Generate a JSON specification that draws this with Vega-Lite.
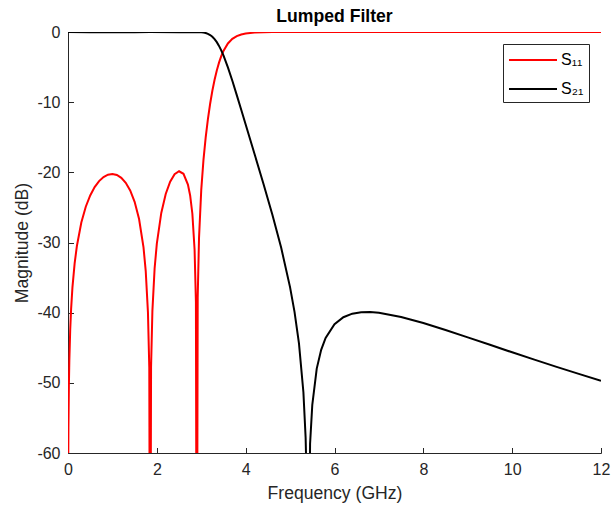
{
  "$schema": "https://vega.github.io/schema/vega-lite/v6.json",
  "width": 533,
  "height": 421,
  "autosize": "none",
  "padding": {"left": 68, "top": 32, "right": 12, "bottom": 57},
  "background": "white",
  "config": {
    "view": {"stroke": null},
    "font": "Liberation Sans",
    "axis": {
      "grid": false,
      "ticks": true,
      "domainColor": "#262626",
      "tickColor": "#262626",
      "labelColor": "#262626",
      "titleColor": "#262626",
      "labelFont": "Liberation Sans",
      "titleFont": "Liberation Sans",
      "labelFontSize": 16,
      "titleFontSize": 17.6,
      "titleFontWeight": "normal",
      "tickSize": -5.5,
      "domainWidth": 1,
      "tickWidth": 1,
      "labelExpr": "replace(datum.label, '−', '-')"
    }
  },
  "title": {
    "text": "Lumped Filter",
    "font": "Liberation Sans",
    "fontSize": 17.6,
    "fontWeight": "bold",
    "color": "#000000",
    "anchor": "middle",
    "offset": -2
  },
  "data": {
    "values": [
      {"f": 0, "v": -100, "s": "S₁₁"},
      {"f": 0.005, "v": -62.4, "s": "S₁₁"},
      {"f": 0.01, "v": -56.4, "s": "S₁₁"},
      {"f": 0.02, "v": -50.4, "s": "S₁₁"},
      {"f": 0.03, "v": -46.85, "s": "S₁₁"},
      {"f": 0.05, "v": -42.4, "s": "S₁₁"},
      {"f": 0.07, "v": -39.5, "s": "S₁₁"},
      {"f": 0.1, "v": -36.4, "s": "S₁₁"},
      {"f": 0.15, "v": -32.95, "s": "S₁₁"},
      {"f": 0.2, "v": -30.5, "s": "S₁₁"},
      {"f": 0.3, "v": -27.15, "s": "S₁₁"},
      {"f": 0.4, "v": -24.9, "s": "S₁₁"},
      {"f": 0.5, "v": -23.3, "s": "S₁₁"},
      {"f": 0.6, "v": -22.1, "s": "S₁₁"},
      {"f": 0.7, "v": -21.25, "s": "S₁₁"},
      {"f": 0.8, "v": -20.67, "s": "S₁₁"},
      {"f": 0.9, "v": -20.33, "s": "S₁₁"},
      {"f": 1.0, "v": -20.23, "s": "S₁₁"},
      {"f": 1.1, "v": -20.38, "s": "S₁₁"},
      {"f": 1.2, "v": -20.79, "s": "S₁₁"},
      {"f": 1.3, "v": -21.49, "s": "S₁₁"},
      {"f": 1.4, "v": -22.58, "s": "S₁₁"},
      {"f": 1.5, "v": -24.2, "s": "S₁₁"},
      {"f": 1.6, "v": -26.65, "s": "S₁₁"},
      {"f": 1.7, "v": -30.7, "s": "S₁₁"},
      {"f": 1.75, "v": -34.07, "s": "S₁₁"},
      {"f": 1.8, "v": -39.96, "s": "S₁₁"},
      {"f": 1.83, "v": -47.85, "s": "S₁₁"},
      {"f": 1.85, "v": -100, "s": "S₁₁"},
      {"f": 1.87, "v": -47.77, "s": "S₁₁"},
      {"f": 1.9, "v": -39.77, "s": "S₁₁"},
      {"f": 1.95, "v": -33.7, "s": "S₁₁"},
      {"f": 2.0, "v": -30.16, "s": "S₁₁"},
      {"f": 2.1, "v": -25.79, "s": "S₁₁"},
      {"f": 2.2, "v": -23.09, "s": "S₁₁"},
      {"f": 2.3, "v": -21.33, "s": "S₁₁"},
      {"f": 2.4, "v": -20.26, "s": "S₁₁"},
      {"f": 2.5, "v": -19.85, "s": "S₁₁"},
      {"f": 2.6, "v": -20.21, "s": "S₁₁"},
      {"f": 2.7, "v": -21.75, "s": "S₁₁"},
      {"f": 2.75, "v": -23.3, "s": "S₁₁"},
      {"f": 2.8, "v": -25.9, "s": "S₁₁"},
      {"f": 2.85, "v": -31.03, "s": "S₁₁"},
      {"f": 2.88, "v": -38.47, "s": "S₁₁"},
      {"f": 2.9, "v": -100, "s": "S₁₁"},
      {"f": 2.92, "v": -37.79, "s": "S₁₁"},
      {"f": 2.95, "v": -29.33, "s": "S₁₁"},
      {"f": 3.0, "v": -22.5, "s": "S₁₁"},
      {"f": 3.05, "v": -18.22, "s": "S₁₁"},
      {"f": 3.1, "v": -15.01, "s": "S₁₁"},
      {"f": 3.15, "v": -12.41, "s": "S₁₁"},
      {"f": 3.2, "v": -10.23, "s": "S₁₁"},
      {"f": 3.25, "v": -8.38, "s": "S₁₁"},
      {"f": 3.3, "v": -6.81, "s": "S₁₁"},
      {"f": 3.35, "v": -5.48, "s": "S₁₁"},
      {"f": 3.4, "v": -4.37, "s": "S₁₁"},
      {"f": 3.45, "v": -3.45, "s": "S₁₁"},
      {"f": 3.5, "v": -2.7, "s": "S₁₁"},
      {"f": 3.6, "v": -1.63, "s": "S₁₁"},
      {"f": 3.7, "v": -0.98, "s": "S₁₁"},
      {"f": 3.8, "v": -0.59, "s": "S₁₁"},
      {"f": 3.9, "v": -0.35, "s": "S₁₁"},
      {"f": 4.0, "v": -0.21, "s": "S₁₁"},
      {"f": 4.2, "v": -0.08, "s": "S₁₁"},
      {"f": 4.4, "v": -0.03, "s": "S₁₁"},
      {"f": 4.6, "v": -0.01, "s": "S₁₁"},
      {"f": 5.0, "v": 0, "s": "S₁₁"},
      {"f": 6.0, "v": 0, "s": "S₁₁"},
      {"f": 8.0, "v": 0, "s": "S₁₁"},
      {"f": 10.0, "v": 0, "s": "S₁₁"},
      {"f": 12.0, "v": 0, "s": "S₁₁"},

      {"f": 0, "v": 0, "s": "S₂₁"},
      {"f": 0.5, "v": -0.02, "s": "S₂₁"},
      {"f": 1.0, "v": -0.04, "s": "S₂₁"},
      {"f": 1.5, "v": -0.02, "s": "S₂₁"},
      {"f": 1.85, "v": 0, "s": "S₂₁"},
      {"f": 2.5, "v": -0.045, "s": "S₂₁"},
      {"f": 2.9, "v": 0, "s": "S₂₁"},
      {"f": 3.0, "v": -0.024, "s": "S₂₁"},
      {"f": 3.05, "v": -0.066, "s": "S₂₁"},
      {"f": 3.1, "v": -0.14, "s": "S₂₁"},
      {"f": 3.15, "v": -0.26, "s": "S₂₁"},
      {"f": 3.2, "v": -0.43, "s": "S₂₁"},
      {"f": 3.25, "v": -0.68, "s": "S₂₁"},
      {"f": 3.3, "v": -1.02, "s": "S₂₁"},
      {"f": 3.35, "v": -1.45, "s": "S₂₁"},
      {"f": 3.4, "v": -1.98, "s": "S₂₁"},
      {"f": 3.45, "v": -2.61, "s": "S₂₁"},
      {"f": 3.5, "v": -3.34, "s": "S₂₁"},
      {"f": 3.6, "v": -5.04, "s": "S₂₁"},
      {"f": 3.7, "v": -6.95, "s": "S₂₁"},
      {"f": 3.8, "v": -8.99, "s": "S₂₁"},
      {"f": 3.9, "v": -11.08, "s": "S₂₁"},
      {"f": 4.0, "v": -13.18, "s": "S₂₁"},
      {"f": 4.2, "v": -17.39, "s": "S₂₁"},
      {"f": 4.4, "v": -21.63, "s": "S₂₁"},
      {"f": 4.6, "v": -26.01, "s": "S₂₁"},
      {"f": 4.8, "v": -30.76, "s": "S₂₁"},
      {"f": 5.0, "v": -36.39, "s": "S₂₁"},
      {"f": 5.1, "v": -39.89, "s": "S₂₁"},
      {"f": 5.2, "v": -44.38, "s": "S₂₁"},
      {"f": 5.3, "v": -51.34, "s": "S₂₁"},
      {"f": 5.35, "v": -57.82, "s": "S₂₁"},
      {"f": 5.38, "v": -66.0, "s": "S₂₁"},
      {"f": 5.4, "v": -100, "s": "S₂₁"},
      {"f": 5.45, "v": -58.71, "s": "S₂₁"},
      {"f": 5.5, "v": -53.13, "s": "S₂₁"},
      {"f": 5.6, "v": -47.97, "s": "S₂₁"},
      {"f": 5.7, "v": -45.29, "s": "S₂₁"},
      {"f": 5.8, "v": -43.6, "s": "S₂₁"},
      {"f": 6.0, "v": -41.65, "s": "S₂₁"},
      {"f": 6.2, "v": -40.65, "s": "S₂₁"},
      {"f": 6.4, "v": -40.14, "s": "S₂₁"},
      {"f": 6.6, "v": -39.93, "s": "S₂₁"},
      {"f": 6.8, "v": -39.91, "s": "S₂₁"},
      {"f": 7.0, "v": -40.01, "s": "S₂₁"},
      {"f": 7.5, "v": -40.61, "s": "S₂₁"},
      {"f": 8.0, "v": -41.48, "s": "S₂₁"},
      {"f": 8.5, "v": -42.47, "s": "S₂₁"},
      {"f": 9.0, "v": -43.52, "s": "S₂₁"},
      {"f": 9.5, "v": -44.58, "s": "S₂₁"},
      {"f": 10.0, "v": -45.65, "s": "S₂₁"},
      {"f": 10.5, "v": -46.69, "s": "S₂₁"},
      {"f": 11.0, "v": -47.72, "s": "S₂₁"},
      {"f": 11.5, "v": -48.72, "s": "S₂₁"},
      {"f": 12.0, "v": -49.7, "s": "S₂₁"}
    ]
  },
  "mark": {"type": "line", "clip": true, "strokeWidth": 2},
  "encoding": {
    "x": {
      "field": "f",
      "type": "quantitative",
      "title": "Frequency (GHz)",
      "scale": {"domain": [0, 12], "nice": false, "zero": false},
      "axis": {"values": [0, 2, 4, 6, 8, 10, 12], "labelPadding": 13.5, "titlePadding": 7, "labelFlush": false}
    },
    "y": {
      "field": "v",
      "type": "quantitative",
      "title": "Magnitude (dB)",
      "scale": {"domain": [-60, 0], "nice": false, "zero": false},
      "axis": {"values": [0, -10, -20, -30, -40, -50, -60], "labelPadding": 13.5, "titlePadding": 5, "labelFlush": false}
    },
    "color": {
      "field": "s",
      "type": "nominal",
      "scale": {"domain": ["S₁₁", "S₂₁"], "range": ["#ff0000", "#000000"]},
      "legend": {
        "title": null,
        "orient": "top-right",
        "offset": 12,
        "symbolType": "M-1,0H3.8",
        "symbolSize": 400,
        "symbolStrokeWidth": 2,
        "labelOffset": 31,
        "labelFont": "Liberation Sans",
        "labelFontSize": 16,
        "labelColor": "#000000",
        "strokeColor": "#262626",
        "fillColor": "white",
        "padding": 5,
        "rowPadding": 10
      }
    },
    "order": {"field": "f", "type": "quantitative"}
  }
}
